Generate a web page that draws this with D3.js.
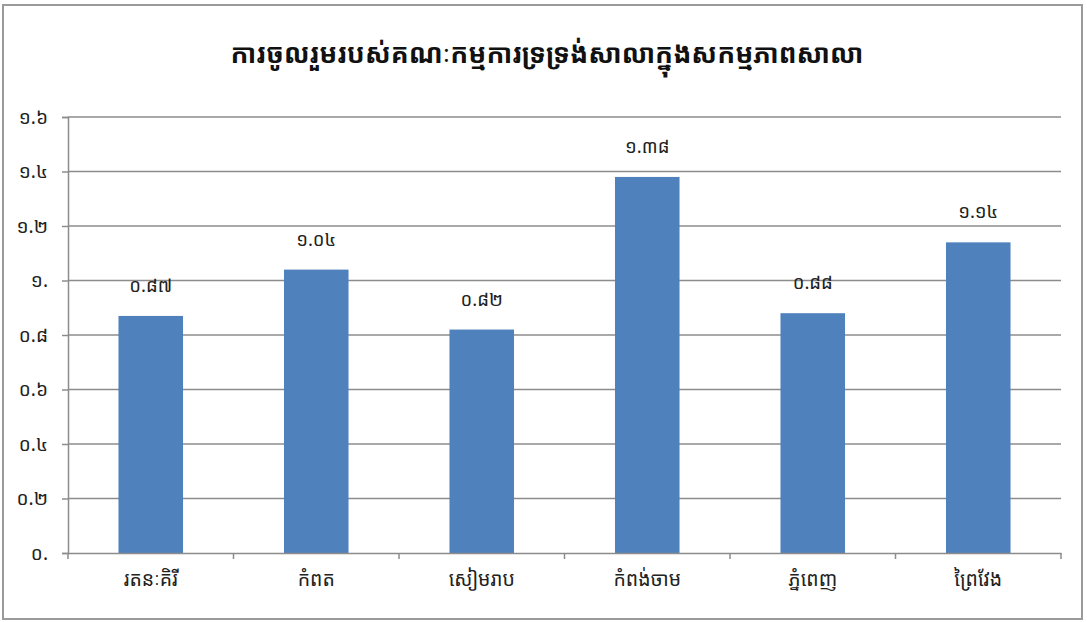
<!DOCTYPE html>
<html>
<head>
<meta charset="utf-8">
<script src="https://cdn.jsdelivr.net/npm/d3@7"></script>
<style>
  body { margin: 0; background: #fff; }
  text { font-family: "Khmer OS", "Noto Sans Khmer", "Noto Serif Khmer", "Khmer OS System", "DejaVu Sans", sans-serif; }
</style>
</head>
<body>
<div id="chart"></div>
<script>
const title = 'ការចូលរួមរបស់គណៈកម្មការទ្រទ្រង់សាលាក្នុងសកម្មភាពសាលា'
const categories = ['រតនៈគិរី', 'កំពត', 'សៀមរាប', 'កំពង់ចាម', 'ភ្នំពេញ', 'ព្រៃវែង']
const values = [0.87, 1.04, 0.82, 1.38, 0.88, 1.14]
const valueLabels = ['០.៨៧', '១.០៤', '០.៨២', '១.៣៨', '០.៨៨', '១.១៤']
const yTicks = [0, 0.2, 0.4, 0.6, 0.8, 1, 1.2, 1.4, 1.6]
const yTickLabels = ['០.', '០.២', '០.៤', '០.៦', '០.៨', '១.', '១.២', '១.៤', '១.៦']

const width = 1087, height = 622
const margin = {top: 117, right: 26, bottom: 69, left: 68}

const svg = d3.select('#chart').append('svg')
  .attr('width', width)
  .attr('height', height)

svg.append('rect')
  .attr('x', 3).attr('y', 5)
  .attr('width', 1079).attr('height', 614)
  .attr('fill', '#fff')
  .attr('stroke', '#9a9a9a')
  .attr('stroke-width', 2)

const x = d3.scaleBand()
  .domain(categories)
  .range([margin.left, width - margin.right])
  .paddingInner(0.61)
  .paddingOuter(0.305)

const xTicks = d3.scaleBand()
  .domain(categories)
  .range([margin.left, width - margin.right])

const y = d3.scaleLinear()
  .domain([0, 1.6])
  .range([height - margin.bottom, margin.top])

// gridlines
svg.append('g')
  .selectAll('line')
  .data(yTicks.slice(1))
  .enter().append('line')
  .attr('x1', margin.left)
  .attr('x2', width - margin.right)
  .attr('y1', d => y(d))
  .attr('y2', d => y(d))
  .attr('stroke', '#8c8c8c')
  .attr('stroke-width', 1.5)

// y axis
const yAxis = svg.append('g')
  .attr('transform', `translate(${margin.left},0)`)
  .call(d3.axisLeft(y).tickValues(yTicks).tickSize(6).tickPadding(14)
    .tickFormat((d, i) => yTickLabels[i]))
yAxis.select('.domain').attr('stroke', '#8c8c8c').attr('stroke-width', 1.5)
yAxis.selectAll('.tick line').attr('stroke', '#8c8c8c').attr('stroke-width', 1.5)
yAxis.selectAll('text').attr('font-size', 19).attr('fill', '#222')
  .style('font-family', '"Khmer OS", "Noto Sans Khmer", "DejaVu Sans", sans-serif')

// bars
svg.append('g')
  .selectAll('rect')
  .data(values)
  .enter().append('rect')
  .attr('x', (d, i) => x(categories[i]))
  .attr('y', d => y(d))
  .attr('width', x.bandwidth())
  .attr('height', d => y(0) - y(d))
  .attr('fill', '#4f81bd')

// value labels
svg.append('g')
  .selectAll('text')
  .data(values)
  .enter().append('text')
  .attr('x', (d, i) => x(categories[i]) + x.bandwidth() / 2)
  .attr('y', d => y(d) - 24)
  .attr('text-anchor', 'middle')
  .attr('font-size', 18.5)
  .attr('fill', '#222')
  .text((d, i) => valueLabels[i])

// x axis
const xAxis = svg.append('g')
  .attr('transform', `translate(0,${y(0)})`)
  .call(d3.axisBottom(xTicks).tickSize(0).tickPadding(19))
xAxis.select('.domain').attr('stroke', '#8c8c8c').attr('stroke-width', 1.5)
xAxis.selectAll('.tick text').attr('font-size', 19.5).attr('fill', '#222')
  .style('font-family', '"Khmer OS", "Noto Sans Khmer", "DejaVu Sans", sans-serif')
xAxis.selectAll('.sep')
  .data(d3.range(categories.length + 1))
  .enter().append('line')
  .attr('x1', i => margin.left + i * xTicks.step())
  .attr('x2', i => margin.left + i * xTicks.step())
  .attr('y1', 0).attr('y2', 6)
  .attr('stroke', '#8c8c8c')
  .attr('stroke-width', 1.5)

svg.append('text')
  .attr('x', 547)
  .attr('y', 63)
  .attr('text-anchor', 'middle')
  .attr('font-size', 26.5)
  .attr('font-weight', 'bold')
  .attr('fill', '#111')
  .text(title)
</script>
</body>
</html>
